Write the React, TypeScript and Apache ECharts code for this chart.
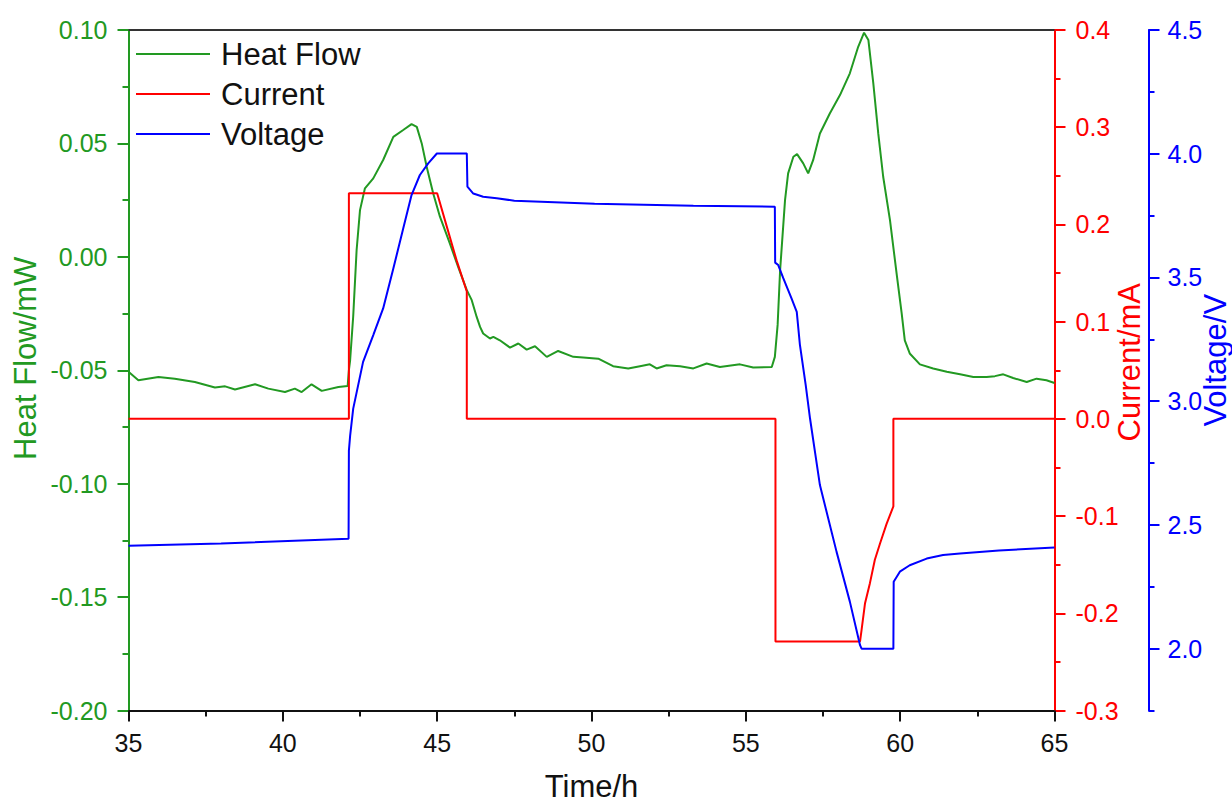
import React, { useEffect, useRef } from "react";
import * as echarts from "echarts";

const FONT = "'Liberation Sans', Arial, Helvetica, sans-serif";
const GREEN = "#229922";
const RED = "#ff0000";
const BLUE = "#0000ff";

// Heat flow (mW) vs time (h)
const hfTime = [
  35.0, 35.32, 35.97, 36.5, 37.15, 37.8, 38.13, 38.45, 39.1, 39.53, 40.07, 40.39, 40.61, 40.93, 41.26, 41.8, 42.1,
  42.14, 42.18, 42.28, 42.39, 42.5, 42.66, 42.93, 43.25, 43.58, 43.9, 44.17, 44.34, 44.5, 44.66, 44.87, 45.09,
  45.41, 45.68, 45.96, 46.12, 46.28, 46.39, 46.49, 46.71, 46.82, 47.03, 47.36, 47.63, 47.9, 48.17, 48.55, 48.92,
  49.41, 49.73, 50.22, 50.7, 51.19, 51.57, 51.89, 52.11, 52.43, 52.87, 53.3, 53.73, 54.16, 54.81, 55.24, 55.84,
  55.94, 56.03, 56.11, 56.27, 56.37, 56.54, 56.66, 56.86, 57.02, 57.18, 57.4, 57.72, 58.05, 58.37, 58.64, 58.83,
  58.97, 59.13, 59.29, 59.45, 59.67, 59.89, 60.05, 60.15, 60.31, 60.64, 61.07, 61.51, 61.94, 62.37, 62.8, 63.07,
  63.34, 63.66, 64.1, 64.42, 64.74, 65.0,
];
const heatFlow = [
  -0.0507, -0.0544, -0.053, -0.0537, -0.0552, -0.0576, -0.0571, -0.0585, -0.0562, -0.0581, -0.0596, -0.0581, -0.0596,
  -0.0562, -0.0591, -0.0574, -0.0569,
  -0.05, -0.0456, -0.0262, 0.0029, 0.0206, 0.0302, 0.0346, 0.0427, 0.0529, 0.0559, 0.0585, 0.0573, 0.05, 0.0397,
  0.028, 0.0177, 0.0059, -0.0044, -0.0147, -0.0191, -0.0265, -0.0309, -0.0338, -0.036, -0.0353, -0.0368, -0.04,
  -0.0382, -0.0409, -0.0394, -0.0441, -0.0415, -0.0441, -0.0444, -0.0449, -0.0482, -0.0492, -0.0482, -0.0474,
  -0.0492, -0.0478, -0.0482, -0.0492, -0.047, -0.0486, -0.0474, -0.0488, -0.0486,
  -0.0441, -0.03, -0.006, 0.025, 0.0368, 0.0441, 0.0453, 0.0412, 0.0368, 0.0426, 0.0544, 0.0632, 0.0713, 0.0809,
  0.0926, 0.0988, 0.0956, 0.0765, 0.0544, 0.0353, 0.0162, -0.008, -0.025, -0.0368, -0.0426, -0.0474, -0.0492,
  -0.0507, -0.0518, -0.053, -0.053, -0.0526, -0.0518, -0.0534, -0.0552, -0.0537, -0.0544, -0.0556,
];

// Current (mA) vs time (h)
const curTime = [
  35, 42.14, 42.14, 45.0, 45.31, 45.63, 45.96, 45.96, 55.96, 55.96, 58.7, 58.75, 58.86, 59.02, 59.18, 59.35, 59.56,
  59.78, 59.78, 65,
];
const current = [
  0, 0, 0.232, 0.232, 0.198, 0.163, 0.131, 0, 0, -0.229, -0.229, -0.217, -0.19, -0.169, -0.145, -0.128, -0.108,
  -0.09, 0, 0,
];

// Voltage (V) vs time (h)
const vTime = [
  35, 38, 42.13, 42.14, 42.18, 42.28, 42.6, 42.93, 43.25, 43.58, 43.9, 44.17, 44.44, 44.71, 44.99, 45.96, 45.98,
  46.17, 46.49, 46.93, 47.5, 50.1, 53.3, 55.94, 55.95, 56.05, 56.21, 56.48, 56.65, 56.75, 56.94, 57.08, 57.24,
  57.4, 57.67, 57.94, 58.37, 58.7, 58.75, 59.78, 59.79, 59.99, 60.31, 60.86, 61.39, 61.94, 63.2, 65,
];
const voltage = [
  2.416, 2.425, 2.444, 2.8, 2.86, 2.97, 3.159, 3.267, 3.375, 3.536, 3.698, 3.833, 3.914, 3.961, 4.001, 4.001, 3.867,
  3.839, 3.826, 3.82, 3.81, 3.798, 3.79, 3.786, 3.56, 3.55, 3.498, 3.415, 3.361, 3.23, 3.065, 2.93, 2.795, 2.661,
  2.526, 2.391, 2.19, 2.014, 2.0, 2.0, 2.27, 2.311, 2.337, 2.364, 2.378, 2.384, 2.397, 2.409,
];

const voltMajor = [2.0, 2.5, 3.0, 3.5, 4.0, 4.5];
const voltMinor = [1.75, 2.25, 2.75, 3.25, 3.75, 4.25];

const zip = (a: number[], b: number[]) => a.map((x, i) => [x, b[i]]);

export default function App() {
  const ref = useRef<HTMLDivElement>(null);
  useEffect(() => {
    if (!ref.current) return;
    const chart = echarts.init(ref.current, null, { renderer: "svg" });
    const tick = (color: string, len: number) => ({ show: true, inside: false, length: len, lineStyle: { color, width: 2 } });
    const option: any = {
      animation: false,
      textStyle: { fontFamily: FONT },
      grid: { left: 128.5, right: 177.5, top: 30, bottom: 92.5, containLabel: false, outerBoundsMode: "none" },
      legend: {
        orient: "vertical",
        left: 131,
        top: 29,
        itemWidth: 74,
        itemHeight: 2,
        itemGap: 0,
        icon: "rect",
        textStyle: { fontSize: 31, color: "#111", lineHeight: 40, padding: [0, 0, 0, 6], fontFamily: FONT },
        data: ["Heat Flow", "Current", "Voltage"],
      },
      xAxis: [
        {
          type: "value",
          min: 35,
          max: 65,
          interval: 5,
          position: "bottom",
          axisLine: { onZero: false, lineStyle: { color: "#111", width: 2 } },
          axisTick: tick("#111", 11),
          minorTick: { show: true, splitNumber: 2, length: 6, lineStyle: { color: "#111", width: 2 } },
          axisLabel: { fontSize: 25, color: "#111", margin: 20, fontFamily: FONT },
          splitLine: { show: false },
          minorSplitLine: { show: false },
          name: "Time/h",
          nameLocation: "middle",
          nameGap: 60,
          nameMoveOverlap: false,
          nameTextStyle: { fontSize: 31, color: "#111", fontFamily: FONT },
        },
        {
          type: "value",
          min: 35,
          max: 65,
          position: "top",
          axisLine: { onZero: false, lineStyle: { color: "#333", width: 2 } },
          axisTick: { show: false },
          axisLabel: { show: false },
          splitLine: { show: false },
        },
      ],
      yAxis: [
        {
          type: "value",
          min: -0.2,
          max: 0.1,
          interval: 0.05,
          position: "left",
          axisLine: { show: true, onZero: false, lineStyle: { color: GREEN, width: 2 } },
          axisTick: tick(GREEN, 11),
          minorTick: { show: true, splitNumber: 2, length: 6, lineStyle: { color: GREEN, width: 2 } },
          axisLabel: { fontSize: 25, color: GREEN, margin: 21, fontFamily: FONT, formatter: (v: number) => v.toFixed(2) },
          splitLine: { show: false },
          name: "Heat Flow/mW",
          nameLocation: "middle",
          nameGap: 88,
          nameMoveOverlap: false,
          nameTextStyle: { fontSize: 31, color: GREEN, fontFamily: FONT, padding: [0, 0, 0, 24] },
        },
        {
          type: "value",
          min: -0.3,
          max: 0.4,
          interval: 0.1,
          position: "right",
          axisLine: { show: true, onZero: false, lineStyle: { color: RED, width: 2 } },
          axisTick: tick(RED, 11),
          minorTick: { show: true, splitNumber: 2, length: 6, lineStyle: { color: RED, width: 2 } },
          axisLabel: { fontSize: 25, color: RED, margin: 21, fontFamily: FONT, formatter: (v: number) => v.toFixed(1) },
          splitLine: { show: false },
          name: "Current/mA",
          nameLocation: "middle",
          nameGap: 59,
          nameMoveOverlap: false,
          nameTextStyle: { fontSize: 31, color: RED, fontFamily: FONT, padding: [0, 0, 0, 16] },
        },
        {
          type: "value",
          min: 1.75,
          max: 4.5,
          position: "right",
          offset: 94,
          axisLine: { show: true, onZero: false, lineStyle: { color: BLUE, width: 2 } },
          axisTick: { ...tick(BLUE, 11), customValues: voltMajor },
          axisLabel: {
            fontSize: 25,
            color: BLUE,
            margin: 19,
            fontFamily: FONT,
            customValues: voltMajor,
            formatter: (v: number) => v.toFixed(1),
          },
          splitLine: { show: false },
          name: "Voltage/V",
          nameLocation: "middle",
          nameGap: 51,
          nameMoveOverlap: false,
          nameTextStyle: { fontSize: 31, color: BLUE, fontFamily: FONT, padding: [0, 0, 0, 20] },
        },
        {
          type: "value",
          min: 1.75,
          max: 4.5,
          position: "right",
          offset: 94,
          axisLine: { show: false, onZero: false },
          axisTick: { ...tick(BLUE, 6), customValues: voltMinor },
          axisLabel: { show: false, customValues: voltMinor },
          splitLine: { show: false },
        },
      ],
      series: [
        {
          name: "Heat Flow",
          type: "line",
          xAxisIndex: 0,
          yAxisIndex: 0,
          showSymbol: false,
          data: zip(hfTime, heatFlow),
          lineStyle: { color: GREEN, width: 2 },
          itemStyle: { color: GREEN },
        },
        {
          name: "Current",
          type: "line",
          xAxisIndex: 0,
          yAxisIndex: 1,
          showSymbol: false,
          data: zip(curTime, current),
          lineStyle: { color: RED, width: 2 },
          itemStyle: { color: RED },
        },
        {
          name: "Voltage",
          type: "line",
          xAxisIndex: 0,
          yAxisIndex: 2,
          showSymbol: false,
          data: zip(vTime, voltage),
          lineStyle: { color: BLUE, width: 2 },
          itemStyle: { color: BLUE },
        },
      ],
    };
    chart.setOption(option);
    return () => chart.dispose();
  }, []);
  return <div ref={ref} style={{ width: 1232, height: 803, position: "absolute", left: 0, top: 0, background: "#fff" }} />;
}
